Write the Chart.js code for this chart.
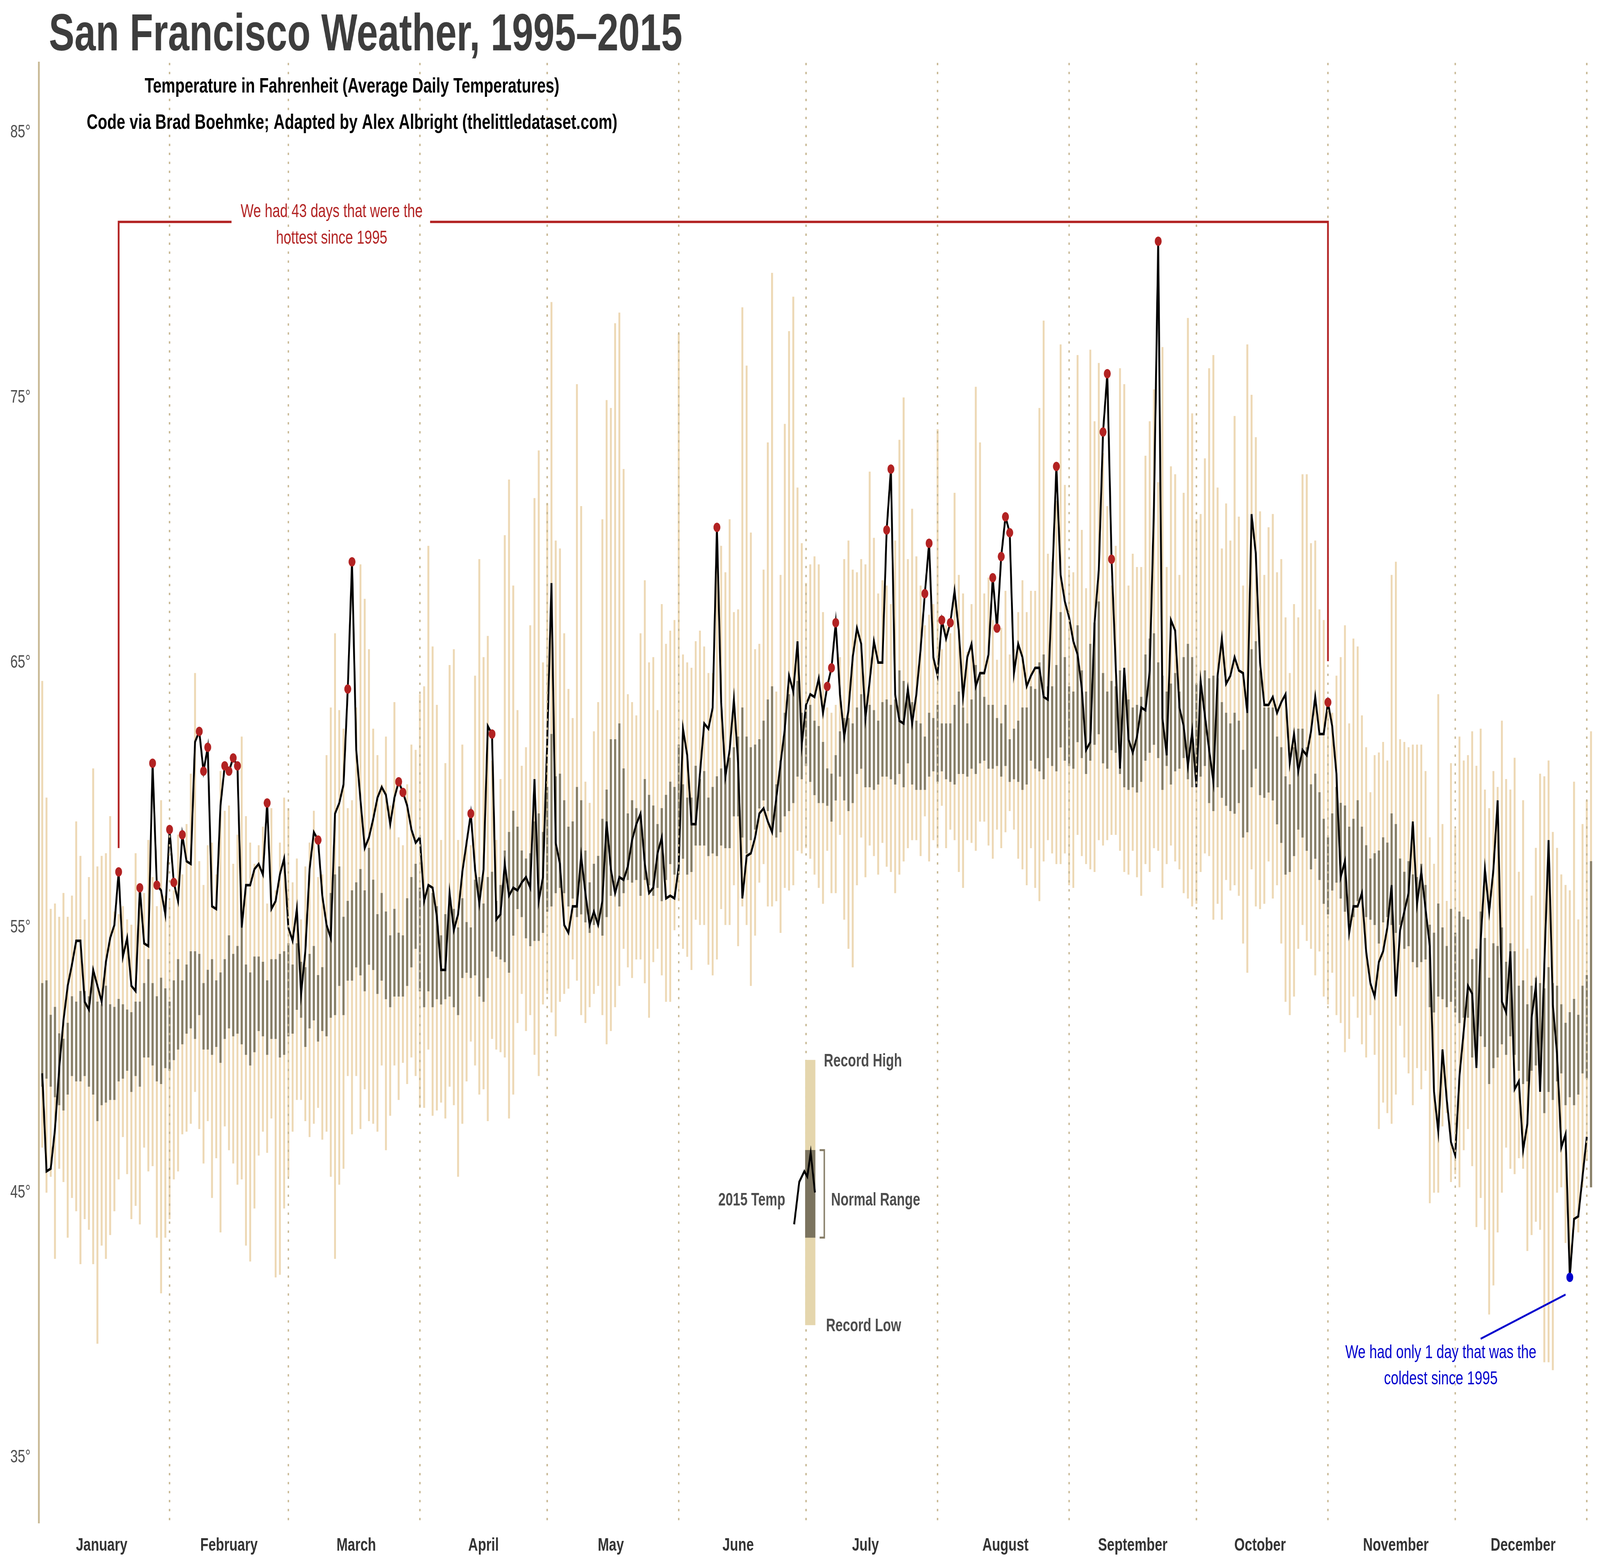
<!DOCTYPE html>
<html>
<head>
<meta charset="utf-8">
<script src="https://cdn.jsdelivr.net/npm/chart.js@4.4.1/dist/chart.umd.min.js"></script>
<style>
html,body{margin:0;padding:0;background:#ffffff;overflow:hidden;}
</style>
</head>
<body>
<canvas id="c" width="5600" height="4000" style="display:block;width:100vw;height:100vh;"></canvas>
<script>
// ---------------- DATA ----------------
const monthNames = ['January','February','March','April','May','June','July','August','September','October','November','December'];
const monthTickDays = [15,45,75,105,135,165,195,228,258,288,320,350];
const monthEndDays = [31,59,90,120,151,181,212,243,273,304,334,365];
const yTickValues = [35,45,55,65,75,85];

// 2015 average daily temperature (day 1..365)
const temp2015 = [
49.5,45.8,45.9,47.4,49.7,51.5,52.8,53.6,54.5,54.5,52.2,51.9,53.4,52.8,52.2,53.7,54.6,55.1,57.1,53.9,54.6,52.8,52.6,56.5,54.4,54.3,61.2,56.6,56.4,55.5,58.7,
56.7,56.0,58.5,57.5,57.4,62.0,62.4,60.9,61.8,55.8,55.7,59.6,61.1,60.9,61.4,61.1,55.0,56.6,56.6,57.2,57.4,57.0,59.7,55.7,56.0,57.0,57.6,55.0,
54.5,55.7,52.5,54.1,57.2,58.6,58.3,56.2,55.1,54.6,59.3,59.7,60.4,64.0,68.8,61.7,59.8,58.0,58.4,59.1,59.9,60.3,60.0,58.9,59.9,60.5,60.1,59.6,58.7,58.2,58.4,
56.0,56.6,56.5,55.4,53.4,53.4,56.3,54.9,55.5,57.1,58.2,59.3,57.2,55.9,57.2,62.6,62.3,55.3,55.5,57.4,56.2,56.5,56.4,56.7,56.9,56.5,60.6,56.0,56.9,62.0,
68.0,58.2,57.4,55.1,54.8,55.8,55.8,57.7,56.3,55.1,55.6,55.1,56.0,59.0,57.2,56.3,56.9,56.8,57.3,58.3,58.9,59.3,57.4,56.3,56.5,57.8,58.4,56.1,56.2,56.1,57.3,
62.5,61.5,58.9,58.9,60.8,62.7,62.5,63.3,70.1,63.5,60.7,61.7,63.6,61.2,56.1,57.7,57.8,58.4,59.3,59.5,59.0,58.6,59.9,61.2,62.5,64.5,63.9,65.8,61.9,63.4,
63.8,63.7,64.4,63.1,64.1,64.8,66.5,63.8,62.2,63.2,65.2,66.3,65.7,62.9,64.3,65.8,65.0,65.0,70.0,72.3,63.8,62.8,62.7,64.0,62.7,63.8,65.5,67.6,69.5,65.2,64.5,
66.6,65.9,66.5,67.7,66.2,63.7,65.2,65.7,64.1,64.6,64.6,65.3,68.2,66.3,69.0,70.5,69.9,64.6,65.7,65.2,64.1,64.5,64.8,64.8,63.7,63.6,68.0,72.4,68.3,67.3,66.7,
65.8,65.3,64.0,61.7,62.0,66.5,68.5,73.7,75.9,68.9,64.8,61.0,64.8,62.1,61.6,62.2,63.3,63.2,64.7,70.9,80.9,62.9,61.5,66.6,66.2,63.3,62.6,61.1,62.4,60.3,
64.3,63.0,61.7,60.5,64.5,65.9,64.2,64.5,65.2,64.7,64.6,63.1,70.6,69.1,65.0,63.4,63.4,63.7,63.1,63.5,63.8,61.2,62.3,60.9,61.7,61.5,62.4,63.7,62.3,62.3,63.5,
62.6,60.8,56.9,57.5,54.8,55.8,55.8,56.3,54.1,52.9,52.4,53.7,54.1,55.0,56.6,52.4,54.9,55.6,56.3,59.0,55.9,57.1,55.7,54.3,48.8,47.3,50.4,48.5,46.9,46.4,
49.4,51.1,52.8,52.5,49.7,54.5,57.2,55.6,57.2,59.8,52.2,51.8,54.1,48.9,49.2,46.6,47.6,51.6,52.8,48.8,53.6,58.3,52.1,50.2,46.7,47.2,41.8,44.0,44.1,45.6,47.1
];

// 1995-2014 record highs (day 1..366)
const recordHigh = [
64.3,59.9,55.7,55.9,55.4,56.3,55.4,56.2,59.0,57.7,55.3,56.9,61.0,57.3,57.7,57.8,59.2,55.6,55.5,55.8,55.3,55.1,57.8,56.3,56.3,58.3,56.9,55.8,59.8,56.2,56.0,
56.4,58.5,57.0,58.9,60.8,64.6,57.5,56.6,58.1,58.2,57.0,60.9,59.4,59.6,57.4,58.5,62.2,59.2,58.2,57.4,58.1,58.8,55.9,59.5,56.4,58.2,59.9,59.5,
56.7,57.6,55.3,57.3,58.2,59.4,56.9,57.0,61.5,63.3,66.1,63.2,62.5,59.5,59.8,63.3,68.7,67.4,65.5,62.5,61.5,60.4,62.2,59.6,63.5,58.4,58.1,60.4,61.9,61.7,63.8,
64.1,69.4,65.6,63.4,58.3,61.2,64.9,65.5,58.3,61.9,58.3,58.1,64.5,68.9,65.2,66.0,61.3,58.3,60.6,69.8,71.9,67.9,63.2,61.1,61.8,66.4,71.2,73.0,65.0,71.0,
78.6,69.6,69.3,66.1,64.0,62.9,75.5,70.9,60.5,59.7,62.4,63.5,70.4,74.9,74.6,77.8,78.2,72.3,63.8,63.5,63.0,66.1,68.1,65.0,65.2,63.2,67.2,65.7,66.2,66.6,77.4,
65.3,65.0,64.8,65.8,66.2,65.6,64.6,64.6,69.5,69.4,68.4,70.4,66.9,67.0,78.4,76.2,69.9,65.5,65.7,68.5,73.3,79.7,63.9,68.3,74.0,77.5,78.8,71.6,69.5,68.0,
68.7,69.0,68.7,66.9,63.3,63.1,63.4,65.2,68.9,69.6,68.5,68.4,68.9,68.7,72.2,69.7,67.6,68.1,67.9,67.2,69.6,73.4,75.0,68.9,70.8,69.0,67.9,66.4,66.8,67.2,73.8,
65.5,66.4,66.1,71.4,68.3,67.6,65.4,67.2,75.4,73.3,67.6,68.2,66.6,65.1,66.3,67.7,65.3,65.5,66.9,68.1,66.9,67.7,67.7,74.6,77.9,69.1,68.8,71.1,77.0,71.7,68.5,
68.4,76.6,70.0,67.8,76.8,74.1,76.3,72.9,70.9,67.9,69.4,76.1,75.5,67.9,69.1,68.6,68.6,72.8,74.1,75.3,71.8,76.9,68.6,72.4,72.1,68.3,71.4,78.0,74.4,70.4,
70.6,72.7,76.1,76.6,71.6,69.3,71.0,69.6,74.3,70.5,67.9,77.0,75.1,73.5,70.7,68.3,70.1,70.6,68.4,68.9,66.7,64.6,67.2,66.7,72.1,72.1,69.5,69.6,67.0,66.6,63.3,
63.1,64.5,65.2,66.4,62.7,65.9,65.6,63.0,61.8,60.1,61.5,61.6,62.0,61.3,68.3,68.8,62.1,62.0,61.8,61.9,61.9,61.9,60.9,58.4,57.4,63.8,58.9,56.0,61.2,58.7,
62.2,61.3,61.5,62.4,61.1,62.5,60.2,59.5,60.9,60.3,62.8,60.6,60.2,61.4,57.1,59.8,54.2,56.2,58.0,60.8,60.7,61.3,58.6,58.0,57.0,56.6,56.4,60.5,55.3,58.9,59.8,62.4
];

// 1995-2014 record lows (day 1..366)
const recordLow = [
46.7,45.0,45.6,42.5,45.9,45.4,43.3,44.8,44.3,42.3,44.0,43.6,42.3,39.3,43.0,42.5,43.4,44.3,45.5,47.1,45.7,44.0,44.5,43.8,46.7,45.8,46.0,43.3,41.2,43.3,44.0,
45.5,45.8,47.2,47.3,47.6,48.8,47.4,46.1,47.7,44.8,46.3,43.5,47.5,46.6,46.1,45.3,45.5,43.0,42.4,44.4,46.4,47.3,46.5,47.8,41.8,41.9,44.4,45.6,
47.3,48.5,48.5,47.7,47.1,47.6,48.2,47.0,47.3,45.6,42.5,45.3,45.9,49.4,47.2,49.4,47.4,48.9,47.7,47.6,47.3,49.8,46.6,47.9,49.8,48.5,49.9,49.1,50.1,49.4,48.2,
48.2,50.4,47.9,48.1,48.4,47.8,49.0,48.3,45.6,47.6,49.2,50.7,49.8,48.7,48.9,47.7,50.8,50.4,50.3,50.1,47.8,48.7,51.4,52.5,51.1,51.7,50.2,49.4,52.1,52.5,
51.8,50.9,52.2,52.5,52.7,53.8,53.0,51.7,51.4,52.0,52.5,52.8,51.7,50.6,51.1,52.0,52.8,54.2,53.5,53.1,53.8,53.8,52.9,51.6,53.7,54.2,53.2,52.2,52.2,54.9,56.0,
54.2,53.9,53.4,55.3,55.1,55.1,53.6,53.2,53.8,55.7,55.1,55.1,56.6,54.3,55.8,55.1,52.8,54.7,56.7,57.4,55.8,55.8,56.0,54.8,56.5,56.4,56.6,57.9,57.8,58.0,
57.6,57.0,56.5,55.9,57.9,56.3,56.3,58.5,55.3,54.2,53.5,56.6,58.4,56.9,58.1,57.7,57.0,58.2,57.3,57.1,56.3,57.0,57.5,58.0,58.3,58.3,57.7,59.2,57.5,58.3,58.0,
59.6,58.0,58.7,58.3,57.1,56.5,58.3,58.2,57.9,59.0,59.0,58.1,57.6,58.7,58.0,58.6,59.4,58.7,57.6,57.2,56.6,58.0,56.5,56.0,57.5,58.3,57.8,57.4,57.4,57.8,56.6,
56.5,58.5,57.7,57.4,57.2,57.1,58.3,58.1,58.3,58.5,58.5,57.9,57.1,57.0,57.9,56.9,56.2,57.4,57.1,58.0,57.9,56.5,57.4,58.1,57.5,57.2,56.3,56.1,55.8,55.9,
57.1,57.8,57.7,55.3,55.9,55.3,56.8,56.4,56.6,56.2,54.4,53.3,57.2,55.8,55.7,55.9,57.5,56.1,56.6,54.4,52.2,51.7,52.4,54.2,55.1,54.5,54.2,53.2,54.1,52.4,52.1,
53.3,51.7,51.4,50.3,50.8,52.4,51.6,50.6,50.1,51.7,50.2,47.4,48.4,48.0,47.6,48.7,51.3,50.1,49.5,48.3,49.7,48.9,49.6,44.6,45.0,45.0,47.5,48.0,45.4,45.7,
45.2,46.6,47.4,46.0,43.7,44.8,43.6,40.4,41.5,43.5,45.0,46.7,45.9,45.7,46.3,45.9,42.8,43.4,43.9,43.6,38.6,38.6,38.3,45.0,45.2,43.1,42.3,43.6,43.5,45.2,46.2,45.2
];

// normal range upper bound (day 1..366)
const normalHigh = [
52.9,53.0,51.7,52.0,51.0,50.8,51.4,52.4,52.2,52.6,52.6,52.4,53.2,52.2,52.1,52.8,52.1,52.0,52.3,52.1,51.9,51.8,52.2,52.2,52.9,53.8,52.9,52.4,53.1,52.7,52.2,
53.0,53.8,53.0,53.6,54.1,54.1,54.0,52.9,53.4,53.8,53.0,53.3,53.8,54.7,54.0,54.3,55.0,53.6,53.3,53.9,53.9,53.7,53.0,53.8,53.8,54.0,54.1,54.4,
53.6,54.4,53.7,53.5,54.0,54.3,53.2,53.5,55.1,56.3,57.0,57.3,55.4,56.0,56.4,56.7,57.2,56.4,58.0,56.8,55.5,56.3,55.6,54.7,55.7,54.8,54.7,56.1,56.9,57.4,56.5,
56.0,56.5,56.3,55.8,54.7,55.5,56.2,55.7,55.0,56.1,55.2,55.0,56.8,56.9,55.9,56.9,57.1,56.0,56.6,57.9,58.6,59.4,58.8,57.9,57.6,57.8,59.0,59.3,58.6,60.3,
62.3,60.7,60.8,59.8,58.8,59.0,60.3,59.8,57.9,56.7,57.4,57.7,59.1,60.2,62.1,62.1,62.7,61.0,59.3,59.8,59.5,59.2,60.6,60.0,59.6,58.9,59.5,60.0,60.5,60.3,61.9,
60.4,59.9,59.9,61.1,60.6,60.9,59.9,60.3,60.7,61.0,61.1,61.4,61.8,62.2,63.3,62.2,61.8,61.9,62.1,62.8,63.6,64.1,60.4,61.3,63.1,63.8,63.9,64.3,63.1,63.4,
63.4,62.8,62.6,62.0,61.0,60.8,61.5,62.4,62.9,62.9,62.7,63.3,63.8,62.9,63.4,63.2,62.8,63.5,63.6,63.4,63.6,64.7,64.3,64.0,63.5,62.8,62.7,62.2,63.1,62.9,63.4,
62.7,62.7,62.7,63.4,63.9,63.3,62.7,63.6,64.9,64.6,63.7,63.4,63.4,62.9,62.7,63.4,62.1,62.5,62.8,63.3,63.3,64.1,64.0,65.0,65.3,64.1,64.1,64.9,66.9,65.2,64.1,
63.9,66.4,64.7,63.9,65.7,66.5,67.3,64.6,63.9,64.3,64.1,64.7,64.3,63.6,63.3,63.4,63.7,65.3,65.9,66.1,65.0,64.5,63.9,64.2,64.6,63.9,65.2,65.7,65.2,64.2,
64.3,64.7,64.4,64.5,64.4,63.5,63.1,62.7,63.1,62.8,61.7,63.1,65.5,65.8,64.7,63.3,63.3,63.3,62.2,61.8,60.7,60.4,61.8,62.5,62.5,61.8,60.4,60.8,60.1,59.1,58.4,
59.3,60.3,59.7,59.6,58.8,59.1,59.8,58.8,58.1,57.6,57.8,57.9,58.4,58.2,59.3,58.9,57.6,57.1,57.5,57.0,56.9,57.4,56.6,55.1,54.8,55.9,55.0,54.3,55.7,54.8,
55.6,55.4,55.3,53.8,54.2,55.6,54.6,53.1,54.4,54.3,55.0,53.7,54.4,54.1,52.8,53.0,52.1,52.8,53.1,52.9,52.7,53.5,52.9,52.8,52.1,51.4,51.8,52.3,51.7,52.8,53.2,57.5
];

// normal range lower bound (day 1..366)
const normalLow = [
49.0,49.3,49.0,48.6,48.3,48.1,48.7,49.4,49.2,49.2,49.4,49.0,48.7,47.7,48.3,48.4,48.5,48.5,49.2,49.3,49.6,48.8,49.4,49.0,50.1,50.1,49.8,49.2,49.1,49.7,49.6,
50.0,50.4,50.6,51.0,51.2,50.8,51.7,50.4,50.4,50.2,50.5,49.9,50.8,51.2,50.9,51.0,50.6,50.2,49.8,50.3,51.1,50.9,50.2,50.8,50.8,50.1,50.2,50.9,
51.0,51.9,51.6,50.5,51.2,51.5,50.7,51.1,50.9,51.6,51.7,52.8,51.7,53.0,53.0,53.5,53.2,52.6,53.6,53.4,52.5,53.0,52.3,52.0,52.4,52.4,52.4,52.8,53.5,54.2,52.6,
52.0,52.6,52.0,52.3,52.1,52.3,52.4,52.0,51.7,53.1,53.3,53.1,53.2,52.4,52.2,53.1,54.1,53.9,53.8,53.7,53.3,54.7,55.7,55.4,54.6,54.3,54.5,54.5,54.8,55.6,
55.8,56.3,56.5,56.3,55.8,56.1,55.4,55.5,55.2,54.8,55.1,55.1,54.7,55.4,56.2,56.3,55.8,56.3,56.8,56.7,56.8,56.2,56.8,56.6,56.2,56.5,56.0,56.8,57.4,57.0,57.0,
57.6,57.0,57.1,58.1,58.1,58.1,57.7,57.8,57.7,58.1,58.0,58.0,59.2,59.2,58.4,57.8,58.3,58.7,59.5,59.8,59.4,58.7,58.4,58.6,59.2,59.4,59.7,60.7,60.6,61.1,
60.5,60.0,59.7,59.7,59.6,59.0,59.8,60.7,59.8,59.4,59.7,60.8,61.0,60.3,60.3,60.2,60.4,60.7,60.7,60.6,60.4,60.8,60.3,61.2,60.4,60.2,60.2,60.2,60.7,60.9,60.5,
60.9,60.6,60.5,60.4,60.8,60.8,60.7,61.0,60.8,61.2,61.3,61.0,61.0,61.1,60.7,61.1,60.5,60.6,60.5,60.2,60.4,61.3,61.0,60.9,60.6,61.4,61.1,60.9,61.8,61.3,61.1,
61.0,62.0,61.4,60.8,61.3,61.9,62.3,61.2,61.0,61.7,61.6,60.8,60.3,60.2,60.3,60.1,60.5,61.3,61.6,61.9,61.4,60.2,61.1,60.4,60.9,61.0,61.4,60.6,60.3,60.5,
60.7,61.1,59.7,59.4,60.3,59.9,59.6,59.4,59.3,59.7,58.4,58.6,60.3,61.0,60.0,59.9,60.1,59.8,58.9,58.2,57.0,57.1,57.7,58.7,58.4,57.9,57.2,57.6,56.8,55.9,55.5,
56.4,56.7,56.1,55.6,55.2,55.4,56.0,56.1,55.4,55.3,55.1,54.4,55.2,55.4,55.1,54.8,55.1,54.2,54.3,53.7,53.5,53.7,53.8,52.0,51.8,52.4,52.3,52.0,52.2,51.8,
51.4,51.6,51.6,50.1,49.8,50.9,50.5,49.1,49.7,50.1,50.6,50.2,50.9,50.2,49.6,49.1,49.2,49.6,49.8,49.6,48.0,48.8,48.5,49.2,49.5,48.3,48.6,48.3,48.7,49.5,49.3,45.2
];

// days of 2015 that beat the 1995-2014 record high / low
const hotDays = [19,24,27,28,31,32,34,38,39,40,44,45,46,47,54,66,73,74,85,86,102,107,160,186,187,188,200,201,209,210,213,215,225,226,227,228,229,240,251,252,253,264,304];
const coldDays = [361];

// legend sample
const legendDay = 182;
const legendRecordRange = [40.0, 50.0];
const legendNormalRange = [43.3, 46.6];
const legendLineDays = [178.2, 179.4, 180.6, 181.3, 182.1, 183.1];
const legendLineTemps = [43.8, 45.4, 45.8, 45.6, 46.5, 45.0];

// annotation anchors (data coordinates)
const hotNote = { startDay: 19, endDay: 304, startTemp: 58.0, endTemp: 65.05, topTemp: 81.63, textDay: 69.2, textTemps: [82.0, 81.0],
  lines: ['We had 43 days that were the', 'hottest since 1995'] };
const coldNote = { fromDay: 360.0, fromTemp: 41.15, toDay: 340.0, toTemp: 39.48, textDay: 330.6, textTemps: [38.95, 37.95],
  lines: ['We had only 1 day that was the', 'coldest since 1995'] };

// ---------------- CHART ----------------
const FONT = '"Liberation Sans", Arial, Helvetica, sans-serif';
const TEMP_INDEX = 2;

const overlay = {
  id: 'overlay',
  afterDatasetDraw(chart, args) {
    if (args.index !== TEMP_INDEX) return;
    const { ctx, chartArea, scales: { x } } = chart;
    ctx.save();
    ctx.strokeStyle = '#C8B894';
    ctx.lineWidth = 5;
    ctx.setLineDash([6, 17]);
    monthEndDays.forEach(d => {
      const px = x.getPixelForValue(d);
      ctx.beginPath();
      ctx.moveTo(px, chartArea.top);
      ctx.lineTo(px, chartArea.bottom);
      ctx.stroke();
    });
    ctx.restore();
  },
  afterDatasetsDraw(chart) {
    const { ctx, scales: { x, y } } = chart;
    ctx.save();
    ctx.font = '48px ' + FONT;
    const tw = ctx.measureText(hotNote.lines[0]).width;
    const tx = x.getPixelForValue(hotNote.textDay);
    const ty = y.getPixelForValue(hotNote.topTemp);
    ctx.strokeStyle = '#B22222';
    ctx.lineWidth = 6;
    ctx.lineJoin = 'miter';
    ctx.beginPath();
    ctx.moveTo(x.getPixelForValue(hotNote.startDay), y.getPixelForValue(hotNote.startTemp));
    ctx.lineTo(x.getPixelForValue(hotNote.startDay), ty);
    ctx.lineTo(tx - tw / 2 - 32, ty);
    ctx.moveTo(tx + tw / 2 + 26, ty);
    ctx.lineTo(x.getPixelForValue(hotNote.endDay), ty);
    ctx.lineTo(x.getPixelForValue(hotNote.endDay), y.getPixelForValue(hotNote.endTemp));
    ctx.stroke();
    ctx.fillStyle = '#B22222';
    ctx.textAlign = 'center';
    ctx.textBaseline = 'middle';
    hotNote.lines.forEach((t, i) => ctx.fillText(t, tx, y.getPixelForValue(hotNote.textTemps[i])));

    ctx.strokeStyle = '#0000CD';
    ctx.lineWidth = 5;
    ctx.beginPath();
    ctx.moveTo(x.getPixelForValue(coldNote.fromDay), y.getPixelForValue(coldNote.fromTemp));
    ctx.lineTo(x.getPixelForValue(coldNote.toDay), y.getPixelForValue(coldNote.toTemp));
    ctx.stroke();
    ctx.fillStyle = '#0000CD';
    const cx = x.getPixelForValue(coldNote.textDay);
    coldNote.lines.forEach((t, i) => ctx.fillText(t, cx, y.getPixelForValue(coldNote.textTemps[i])));

    ctx.strokeStyle = '#857C66';
    ctx.lineWidth = 5;
    const bx = x.getPixelForValue(185.3), bx0 = x.getPixelForValue(184.2);
    const by1 = y.getPixelForValue(legendNormalRange[1]), by0 = y.getPixelForValue(legendNormalRange[0]);
    ctx.beginPath();
    ctx.moveTo(bx0, by1); ctx.lineTo(bx, by1); ctx.lineTo(bx, by0); ctx.lineTo(bx0, by0);
    ctx.stroke();

    ctx.fillStyle = '#4D4D4D';
    ctx.font = 'bold 46px ' + FONT;
    ctx.textBaseline = 'middle';
    ctx.textAlign = 'left';
    ctx.fillText('Record High', x.getPixelForValue(185.2), y.getPixelForValue(49.95));
    ctx.fillText('Record Low', x.getPixelForValue(185.7), y.getPixelForValue(39.95));
    ctx.fillText('Normal Range', x.getPixelForValue(186.9), y.getPixelForValue(44.7));
    ctx.textAlign = 'right';
    ctx.fillText('2015 Temp', x.getPixelForValue(176.1), y.getPixelForValue(44.7));
    ctx.restore();
  },
  afterDraw(chart) {
    const { ctx } = chart;
    ctx.save();
    ctx.fillStyle = '#3D3D3D';
    ctx.font = 'bold 134px ' + FONT;
    ctx.textAlign = 'left';
    ctx.textBaseline = 'alphabetic';
    ctx.fillText('San Francisco Weather, 1995\u20132015', 171, 129);
    ctx.fillStyle = '#000000';
    ctx.font = 'bold 54px ' + FONT;
    ctx.textAlign = 'center';
    ctx.textBaseline = 'middle';
    ctx.fillText('Temperature in Fahrenheit (Average Daily Temperatures)', 1232, 222);
    ctx.fillText('Code via Brad Boehmke; Adapted by Alex Albright (thelittledataset.com)', 1232, 315);
    ctx.restore();
  }
};

new Chart(document.getElementById('c'), {
  type: 'bar',
  data: {
    datasets: [
      { label: 'Record range 1995\u20132014', data: recordHigh.map((h, i) => ({ x: i + 1, y: [recordLow[i], h] })),
        backgroundColor: '#EDD8B4', barThickness: 6, grouped: false, borderWidth: 0, order: 10 },
      { label: 'Normal range', data: normalHigh.map((h, i) => ({ x: i + 1, y: [normalLow[i], h] })),
        backgroundColor: '#877E66', barThickness: 7, grouped: false, borderWidth: 0, order: 9 },
      { type: 'line', label: '2015 Temp', data: temp2015.map((t, i) => ({ x: i + 1, y: t })),
        borderColor: '#000000', borderWidth: 6.5, pointRadius: 0, tension: 0, fill: false, order: 8 },
      { label: 'Legend record', data: [{ x: legendDay, y: legendRecordRange }],
        backgroundColor: '#E5D6AD', barThickness: 35, grouped: false, borderWidth: 0, order: 7 },
      { label: 'Legend normal', data: [{ x: legendDay, y: legendNormalRange }],
        backgroundColor: '#7B735E', barThickness: 35, grouped: false, borderWidth: 0, order: 6 },
      { type: 'line', label: 'Legend line', data: legendLineDays.map((d, i) => ({ x: d, y: legendLineTemps[i] })),
        borderColor: '#000000', borderWidth: 6.5, pointRadius: 0, tension: 0, fill: false, order: 5 },
      { type: 'line', label: 'Record high 2015', data: hotDays.map(d => ({ x: d, y: temp2015[d - 1] })),
        showLine: false, pointRadius: 12, pointBackgroundColor: '#B22222', pointBorderWidth: 0, order: 2 },
      { type: 'line', label: 'Record low 2015', data: coldDays.map(d => ({ x: d, y: temp2015[d - 1] })),
        showLine: false, pointRadius: 12, pointBackgroundColor: '#0000CD', pointBorderWidth: 0, order: 1 }
    ]
  },
  options: {
    responsive: false,
    devicePixelRatio: 1,
    animation: false,
    events: [],
    layout: { padding: { top: 161, right: 27, left: 0, bottom: 0 } },
    plugins: { legend: { display: false }, tooltip: { enabled: false }, title: { display: false } },
    scales: {
      x: {
        type: 'linear', min: 0.2, max: 366.3, offset: false,
        afterBuildTicks: s => { s.ticks = monthTickDays.map(v => ({ value: v })); },
        afterFit: s => { s.height = 100; },
        ticks: { autoSkip: false, maxRotation: 0, padding: 30, color: '#333333',
          font: { family: FONT, size: 47, weight: 'bold' },
          callback: (v, i) => monthNames[i] },
        grid: { display: false, drawTicks: false },
        border: { display: false }
      },
      y: {
        type: 'linear', min: 32.53, max: 87.63,
        afterBuildTicks: s => { s.ticks = yTickValues.map(v => ({ value: v })); },
        afterFit: s => { s.width = 136; },
        ticks: { padding: 29, color: '#4D4D4D', font: { family: FONT, size: 47 },
          callback: v => v + '\u00B0' },
        grid: { display: false, drawTicks: false },
        border: { display: true, color: '#C8B894', width: 6 }
      }
    }
  },
  plugins: [overlay]
});
</script>
</body>
</html>
